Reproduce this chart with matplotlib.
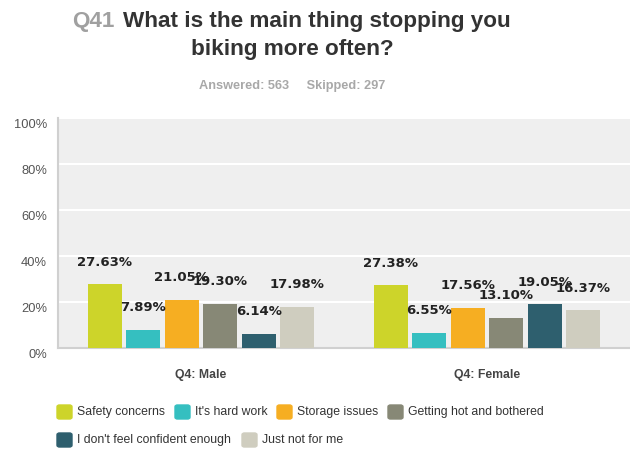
import matplotlib.pyplot as plt
from matplotlib.patches import FancyBboxPatch
from matplotlib.transforms import ScaledTranslation
import numpy as np

# chart data
groups = ["Q4: Male", "Q4: Female"]
answers = ["Safety concerns", "It's hard work", "Storage issues",
           "Getting hot and bothered", "I don't feel confident enough", "Just not for me"]
male = [27.63, 7.89, 21.05, 19.30, 6.14, 17.98]
female = [27.38, 6.55, 17.56, 13.10, 19.05, 16.37]
colors = ["#CDD42A", "#35BFC0", "#F6AE22", "#878876", "#2E5F6E", "#CFCDBF"]
yticks = [0, 20, 40, 60, 80, 100]

W, H = 630, 449
fig = plt.figure(figsize=(W / 100, H / 100), dpi=100)
ax = fig.add_axes([58 / W, (H - 348) / H, 572 / W, 230 / H])
ax.set_facecolor("#EFEFEF")

step = 38.5 / 286
width = 34 / 286
x = np.arange(len(groups))
for i, ans in enumerate(answers):
    vals = [male[i], female[i]]
    pos = x + (i - 2.5) * step
    ax.bar(pos, vals, width, color=colors[i], zorder=3)
    for p, v in zip(pos, vals):
        ax.annotate(f"{v:.2f}%", (p, v), xytext=(0, 22), textcoords="offset pixels",
                    ha="center", va="center", fontsize=9.5, fontweight="bold",
                    color="#222222", zorder=5)

ax.set_xlim(-0.5, 1.5)
ax.set_ylim(0, 100)
ax.set_yticks(yticks)
ax.set_yticklabels([f"{t}%" for t in yticks], fontsize=9.3, color="#555555",
                   family="Liberation Sans")
ax.tick_params(axis="y", length=0, pad=8)
# labels sit a little below their gridlines
shift = ScaledTranslation(0, -6 / 100, fig.dpi_scale_trans)
for lab in ax.get_yticklabels():
    lab.set_transform(lab.get_transform() + shift)
ax.set_xticks(x)
ax.set_xticklabels(groups, fontsize=8.8, fontweight="bold", color="#444444",
                   family="Liberation Sans")
ax.tick_params(axis="x", length=0, pad=15)
ax.grid(axis="y", color="white", linewidth=1.5, zorder=1)
for s in ["top", "right"]:
    ax.spines[s].set_visible(False)
for s in ["left", "bottom"]:
    ax.spines[s].set_color("#D0D0D0")
    ax.spines[s].set_linewidth(1.5)

# title
tf = dict(fontsize=16.2, fontweight="bold", family="Liberation Sans", va="center")
fig.text(72 / W, 1 - 22 / H, "Q41", color="#A0A0A0", ha="left", **tf)
fig.text(123 / W, 1 - 22 / H, "What is the main thing stopping you", color="#333333",
         ha="left", **tf)
fig.text(292 / W, 1 - 50 / H, "biking more often?", color="#333333", ha="center", **tf)
fig.text(292 / W, 1 - 86 / H, "Answered: 563     Skipped: 297", color="#A8A8A8",
         ha="center", va="center", fontsize=9.2, fontweight="bold", family="Liberation Sans")

# legend
leg_pos = [(57, 412), (175, 412), (277, 412), (388, 412), (57, 440), (242, 440)]
for (lx, ly), lab, c in zip(leg_pos, answers, colors):
    fig.patches.append(FancyBboxPatch((lx / W, 1 - (ly + 7) / H), 15 / W, 14 / H,
                                      boxstyle="round,pad=0,rounding_size=0.004",
                                      transform=fig.transFigure, color=c))
    fig.text((lx + 20) / W, 1 - ly / H, lab, fontsize=8.8, color="#333333",
             family="Liberation Sans", va="center", ha="left")

fig.savefig("out.png", dpi=100)
